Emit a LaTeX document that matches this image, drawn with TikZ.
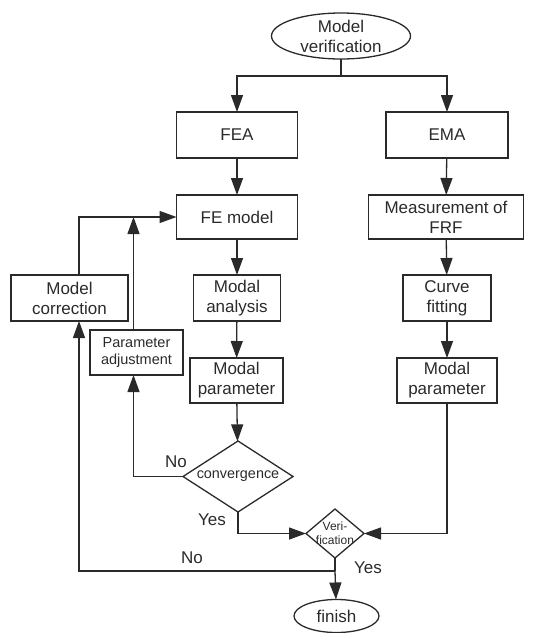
\documentclass[tikz,border=0pt]{standalone}
\usepackage{fontspec}
\setmainfont{Liberation Sans}
\usetikzlibrary{shapes.geometric,arrows.meta}

\definecolor{ink}{HTML}{2A2A2A}

\begin{document}
\begin{tikzpicture}[x=1pt,y=-1pt,inner sep=2pt,outer sep=0pt,line width=1.3pt,draw=ink,text=ink,
	box/.style={rectangle,draw,align=center,font=\fontsize{17}{20}\selectfont},
	term/.style={ellipse,draw,align=center,inner sep=0pt,font=\fontsize{17}{20}\selectfont},
	dec/.style={diamond,draw,align=center,inner sep=0pt}]
	\useasboundingbox (0,0) rectangle (542,633);
	\node[term,minimum width=139pt,minimum height=46pt] (mv) at (341,36) {Model\\verification} ;
	\node[box,minimum width=121pt,minimum height=46pt] (fea) at (237,135) {FEA} ;
	\node[box,minimum width=122pt,minimum height=46pt] (ema) at (447,135) {EMA} ;
	\node[box,minimum width=121pt,minimum height=44pt] (fem) at (237,217) {FE model} ;
	\node[box,minimum width=155pt,minimum height=44pt,inner sep=0pt] (frf) at (446,217) {Measurement of\\FRF} ;
	\node[box,minimum width=117pt,minimum height=46pt,inner sep=0pt] (mc) at (69.5,298) {Model\\correction} ;
	\node[box,minimum width=87pt,minimum height=46pt,inner sep=0pt] (ma) at (237,298) {Modal\\analysis} ;
	\node[box,minimum width=88pt,minimum height=46pt,inner sep=0pt] (cf) at (447,298) {Curve\\fitting} ;
	\node[box,minimum width=93pt,minimum height=45pt,inner sep=0pt,font=\fontsize{14.5}{17.5}\selectfont] (pa) at (136.5,352.5) {Parameter\\adjustment} ;
	\node[box,minimum width=93pt,minimum height=45pt,inner sep=0pt] (mpl) at (236.5,380.5) {Modal\\parameter} ;
	\node[box,minimum width=100pt,minimum height=45pt,inner sep=0pt] (mpr) at (447,380.5) {Modal\\parameter} ;
	\node[dec,minimum width=110pt,minimum height=71pt,shape aspect=1.55,font=\fontsize{14.4}{17}\selectfont] (conv) at (238,476.5) {convergence} ;
	\node[dec,minimum width=58pt,minimum height=49pt,shape aspect=1.18,inner sep=-4pt,font=\fontsize{12}{14}\selectfont] (ver) at (335,533.5) {Veri-\\fication} ;
	\node[term,minimum width=85pt,minimum height=33pt] (fin) at (336.5,616) {finish} ;
	\coordinate (split) at (341,76) ;
	\coordinate (back) at (335,571) ;
	\node[font=\fontsize{17}{20}\selectfont] (no1) at (176,462) {No} ;
	\node[font=\fontsize{17}{20}\selectfont] (yes1) at (212,520) {Yes} ;
	\node[font=\fontsize{17}{20}\selectfont] (no2) at (192,558) {No} ;
	\node[font=\fontsize{17}{20}\selectfont] (yes2) at (368,568) {Yes} ;
	\draw (mv)--(split);
	\draw (ver)--(back);
	\begin{scope}[->,>={Triangle[length=17pt,width=12pt]}]
	\draw (split) -| (fea) ;
	\draw (split) -| (ema) ;
	\draw (fea)--(fem);
	\draw (fem)--(ma);
	\draw (ma)--(mpl);
	\draw (mpl)--(conv);
	\draw (ema)--(frf);
	\draw (frf)--(cf);
	\draw (cf)--(mpr);
	\draw (conv.west) -| ([xshift=-3pt]pa.south) ;
	\draw ([xshift=-3pt]pa.north) -- ([xshift=-3pt]pa.north |- fem.west) ;
	\draw ([xshift=9.5pt]mc.north) |- (fem.west) ;
	\draw (conv.south) |- (ver.west) ;
	\draw (mpr.south) |- (ver.east) ;
	\draw (back)--(fin);
	\draw (back) -| ([xshift=9.5pt]mc.south) ;
	\end{scope}
\end{tikzpicture}
\end{document}
